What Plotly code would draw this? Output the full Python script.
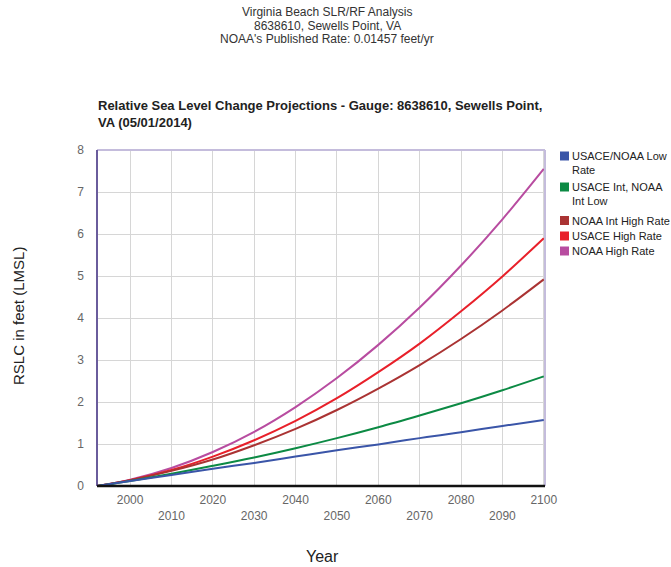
import plotly.graph_objects as go

years = [1992, 2000, 2010, 2020, 2030, 2040, 2050, 2060, 2070, 2080, 2090, 2100]
low_rate = [0, 0.12, 0.26, 0.41, 0.55, 0.70, 0.85, 0.99, 1.14, 1.28, 1.43, 1.57]
usace_int = [0, 0.12, 0.29, 0.48, 0.68, 0.90, 1.14, 1.40, 1.68, 1.97, 2.28, 2.61]
noaa_int_high = [0, 0.14, 0.36, 0.63, 0.97, 1.36, 1.81, 2.32, 2.88, 3.50, 4.18, 4.92]
usace_high = [0, 0.14, 0.38, 0.70, 1.09, 1.55, 2.09, 2.71, 3.39, 4.16, 4.99, 5.90]
noaa_high = [0, 0.15, 0.43, 0.81, 1.29, 1.88, 2.57, 3.36, 4.25, 5.25, 6.35, 7.55]

series_names = ["USACE/NOAA Low<br>Rate", "USACE Int, NOAA<br>Int Low",
                "NOAA Int High Rate", "USACE High Rate", "NOAA High Rate"]
series_values = [low_rate, usace_int, noaa_int_high, usace_high, noaa_high]
colors = ["#3a55a8", "#0c8a44", "#aa3333", "#e8202a", "#b84ca0"]

x_tickvals = [2000, 2010, 2020, 2030, 2040, 2050, 2060, 2070, 2080, 2090, 2100]
x_ticktext = [str(v) if i % 2 == 0 else "<br>" + str(v) for i, v in enumerate(x_tickvals)]
y_tickvals = [0, 1, 2, 3, 4, 5, 6, 7, 8]

# plot area in pixels: x 97..545, y 150..486
L, R, T, B = 97, 545, 150, 486
W, H = R - L, B - T
def px(x):
    return (x - L) / W
def py(y):
    return (B - y) / H

fig = go.Figure()

for name, vals, col in reversed(list(zip(series_names, series_values, colors))):
    fig.add_trace(go.Scatter(x=years, y=vals, mode="lines", line=dict(color=col, width=2, shape="spline"),
                             name=name.replace("<br>", " "), showlegend=False, hoverinfo="x+y+name"))

fig.update_layout(
    width=671, height=567,
    margin=dict(l=L, r=671 - R, t=T, b=567 - B, autoexpand=False),
    paper_bgcolor="white", plot_bgcolor="white",
    font=dict(family="Liberation Sans, Arial, sans-serif", size=12, color="#222"),
    showlegend=False,
    xaxis=dict(range=[1992, 2100.3], tickmode="array", tickvals=x_tickvals, ticktext=x_ticktext,
               showgrid=True, gridcolor="#d6d6d6", gridwidth=1, zeroline=False, automargin=False,
               tickfont=dict(size=12, color="#666"), ticks="", showline=False, ticklabelstandoff=5),
    yaxis=dict(range=[0, 8], tickvals=y_tickvals, showgrid=True, gridcolor="#d6d6d6", gridwidth=1,
               zeroline=False, automargin=False, tickfont=dict(size=12, color="#666"), ticks="",
               ticklabelstandoff=12),
)

# frame
fig.add_shape(type="line", xref="paper", yref="paper", x0=0, x1=1, y0=1, y1=1,
              line=dict(color="#c4bcdc", width=2))
fig.add_shape(type="line", xref="paper", yref="paper", x0=1, x1=1, y0=0, y1=1,
              line=dict(color="#c4bcdc", width=2))
fig.add_shape(type="line", xref="paper", yref="paper", x0=0, x1=0, y0=0, y1=1,
              line=dict(color="#6a5c9c", width=2))
fig.add_shape(type="line", xref="paper", yref="paper", x0=0, x1=1, y0=0, y1=0,
              line=dict(color="#111111", width=2.5))

# legend (manual, square swatches)
legend_rows = [156, 187, 220.5, 236, 251]
for name, col, yc in zip(series_names, colors, legend_rows):
    fig.add_shape(type="rect", xref="paper", yref="paper",
                  x0=px(560), x1=px(569), y0=py(yc - 4.5), y1=py(yc + 4.5),
                  fillcolor=col, line=dict(width=0))
    if "<br>" in name:
        fig.add_annotation(xref="paper", yref="paper", x=px(570), y=py(yc - 8), xanchor="left",
                           yanchor="top", text=name, showarrow=False, align="left",
                           font=dict(size=11, color="#222"))
    else:
        fig.add_annotation(xref="paper", yref="paper", x=px(570), y=py(yc), xanchor="left",
                           yanchor="middle", text=name, showarrow=False, align="left",
                           font=dict(size=11, color="#222"))

# top titles
for txt, yc in [("Virginia Beach SLR/RF Analysis", 12),
                ("8638610, Sewells Point, VA", 26),
                ("NOAA's Published Rate: 0.01457 feet/yr", 39)]:
    fig.add_annotation(xref="paper", yref="paper", x=px(327), y=py(yc), xanchor="center",
                       yanchor="middle", text=txt, showarrow=False, font=dict(size=12, color="#333"))

# chart title
fig.add_annotation(xref="paper", yref="paper", x=px(96), y=py(96), xanchor="left", yanchor="top",
                   text="<b>Relative Sea Level Change Projections - Gauge: 8638610, Sewells Point,<br>VA (05/01/2014)</b>",
                   showarrow=False, align="left", font=dict(size=13, color="#222"))

# axis titles
fig.add_annotation(xref="paper", yref="paper", x=px(18), y=py(316), xanchor="center", yanchor="middle",
                   text="RSLC in feet (LMSL)", textangle=-90, showarrow=False,
                   font=dict(size=15, color="#222"))
fig.add_annotation(xref="paper", yref="paper", x=px(322), y=py(556), xanchor="center", yanchor="middle",
                   text="Year", showarrow=False, font=dict(size=16, color="#222"))

fig.write_html("out.html", config={"displayModeBar": False},
               post_script="document.body.style.margin='0';document.body.style.overflow='hidden';")
